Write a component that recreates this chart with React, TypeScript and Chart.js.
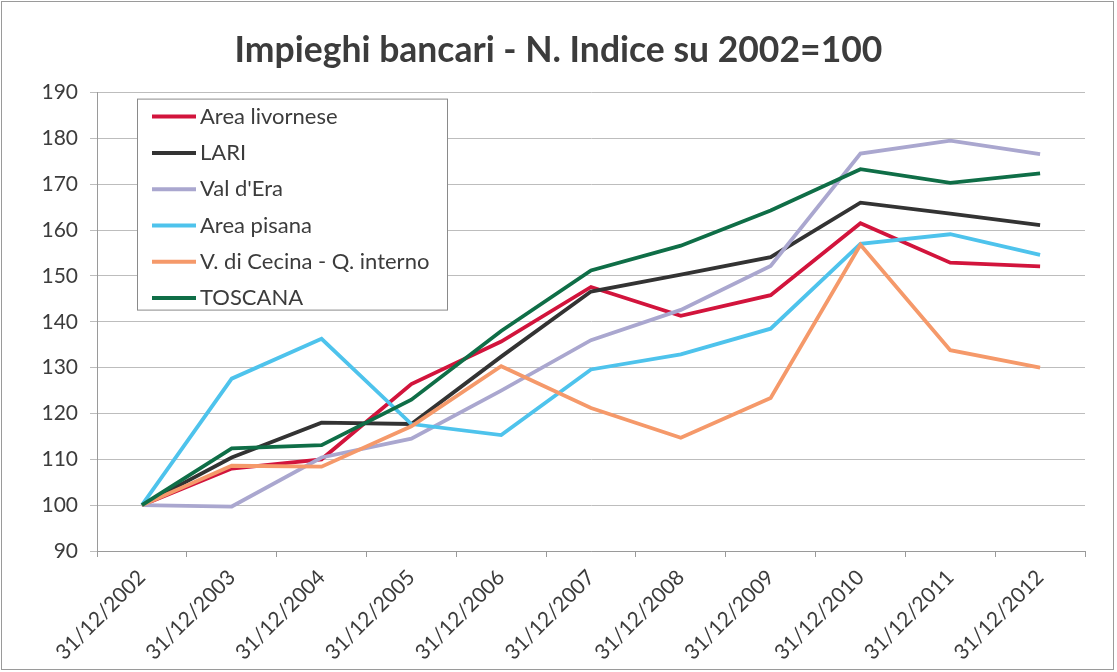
import { useEffect, useRef } from "react";
import { Chart, registerables } from "chart.js";

Chart.register(...registerables);

const categories = [
  "31/12/2002", "31/12/2003", "31/12/2004", "31/12/2005", "31/12/2006", "31/12/2007",
  "31/12/2008", "31/12/2009", "31/12/2010", "31/12/2011", "31/12/2012",
];

const areaLivornese = [100, 108.0, 110.0, 126.4, 135.7, 147.6, 141.3, 145.8, 161.5, 152.9, 152.1];
const lari = [100, 110.4, 118.0, 117.7, 132.4, 146.6, 150.3, 154.1, 166.0, 163.6, 161.1];
const valDEra = [100, 99.7, 110.4, 114.5, 125.0, 136.0, 142.6, 152.2, 176.7, 179.5, 176.6];
const areaPisana = [100, 127.6, 136.3, 117.7, 115.3, 129.6, 132.9, 138.5, 157.0, 159.1, 154.6];
const vDiCecina = [100, 108.6, 108.4, 117.2, 130.3, 121.2, 114.7, 123.4, 156.8, 133.8, 130.0];
const toscana = [100, 112.4, 113.1, 123.0, 138.0, 151.2, 156.6, 164.3, 173.3, 170.3, 172.4];

const seriesNames = [
  "Area livornese", "LARI", "Val d'Era", "Area pisana", "V. di Cecina - Q. interno", "TOSCANA",
];
const seriesValues = [areaLivornese, lari, valDEra, areaPisana, vDiCecina, toscana];
const seriesColors = ["#d2143c", "#333333", "#aaa7cf", "#4ec3ec", "#f5996a", "#0f6e47"];

const titleText = "Impieghi bancari - N. Indice su 2002=100";
const yMin = 90;
const yMax = 190;
const yStep = 10;

const FONT = "Lato, 'Open Sans', sans-serif";
const TEXT = "#3c3c3c";

const frame = {
  id: "frame",
  beforeDraw(chart: any) {
    const ctx = chart.ctx;
    ctx.save();
    ctx.fillStyle = "#ffffff";
    ctx.fillRect(0, 0, chart.width, chart.height);
    ctx.strokeStyle = "#9a9a9a";
    ctx.lineWidth = 1;
    ctx.strokeRect(1.5, 1.5, chart.width - 5, chart.height - 4);
    ctx.restore();
  },
};

const boxLegend = {
  id: "boxLegend",
  afterDraw(chart: any) {
    const ctx = chart.ctx;
    const area = chart.chartArea;
    const left = area.left + 40;
    const top = area.top + 6;
    const w = 310;
    const rowH = 36.3;
    const h = 211;
    ctx.save();
    ctx.fillStyle = "#ffffff";
    ctx.fillRect(left, top, w, h);
    ctx.strokeStyle = "#8a8a8a";
    ctx.lineWidth = 1;
    ctx.strokeRect(left + 0.5, top + 0.5, w, h);
    ctx.font = `22px ${FONT}`;
    ctx.textBaseline = "middle";
    ctx.textAlign = "left";
    chart.data.datasets.forEach((ds: any, i: number) => {
      const y = top + 18 + i * rowH;
      ctx.strokeStyle = ds.borderColor;
      ctx.lineWidth = 4;
      ctx.beginPath();
      ctx.moveTo(left + 15, y);
      ctx.lineTo(left + 59, y);
      ctx.stroke();
      ctx.fillStyle = TEXT;
      ctx.fillText(ds.label, left + 63, y);
    });
    ctx.restore();
  },
};

export default function App() {
  const ref = useRef<HTMLCanvasElement>(null);
  useEffect(() => {
    const chart = new Chart(ref.current!, {
      type: "line",
      data: {
        labels: categories,
        datasets: seriesNames.map((name, i) => ({
          label: name,
          data: seriesValues[i],
          borderColor: seriesColors[i],
          backgroundColor: seriesColors[i],
          borderWidth: 3.8,
          pointRadius: 0,
          tension: 0,
          fill: false,
          order: seriesNames.length - i,
          yAxisID: "y",
        })),
      },
      options: {
        responsive: false,
        animation: false,
        layout: { padding: { left: 0, right: 0, top: 0, bottom: 0 } },
        plugins: {
          legend: { display: false },
          tooltip: { enabled: false },
          title: {
            display: true,
            text: titleText,
            color: TEXT,
            font: { family: FONT, size: 35.5, weight: "bold", lineHeight: 1.2 },
            padding: { top: 29, bottom: 21 },
          },
        },
        scales: {
          x: {
            offset: true,
            grid: { offset: true, drawOnChartArea: false, tickLength: 6, color: "#9a9a9a" },
            border: { color: "#9a9a9a" },
            ticks: {
              minRotation: 45,
              maxRotation: 45,
              autoSkip: false,
              color: TEXT,
              font: { family: FONT, size: 21 },
              padding: 8,
            },
            afterFit: (s: any) => {
              s.height = 121;
            },
          },
          y: {
            min: yMin,
            max: yMax,
            ticks: {
              stepSize: yStep,
              color: TEXT,
              font: { family: FONT, size: 21 },
              padding: 12,
            },
            grid: { color: "#bdbdbd", tickLength: 7 },
            border: { color: "#9a9a9a" },
            afterFit: (s: any) => {
              s.width = 97;
            },
          },
          yRight: {
            position: "right",
            min: yMin,
            max: yMax,
            grid: { display: false, drawTicks: false },
            border: { display: false },
            ticks: { display: false },
            afterFit: (s: any) => {
              s.width = 32;
            },
          },
        },
      },
      plugins: [frame, boxLegend],
    });
    return () => chart.destroy();
  }, []);
  return (
    <div style={{ position: "absolute", left: 0, top: 0, width: 1117, height: 672 }}>
      <canvas ref={ref} width={1117} height={672} style={{ width: 1117, height: 672, display: "block" }} />
    </div>
  );
}
